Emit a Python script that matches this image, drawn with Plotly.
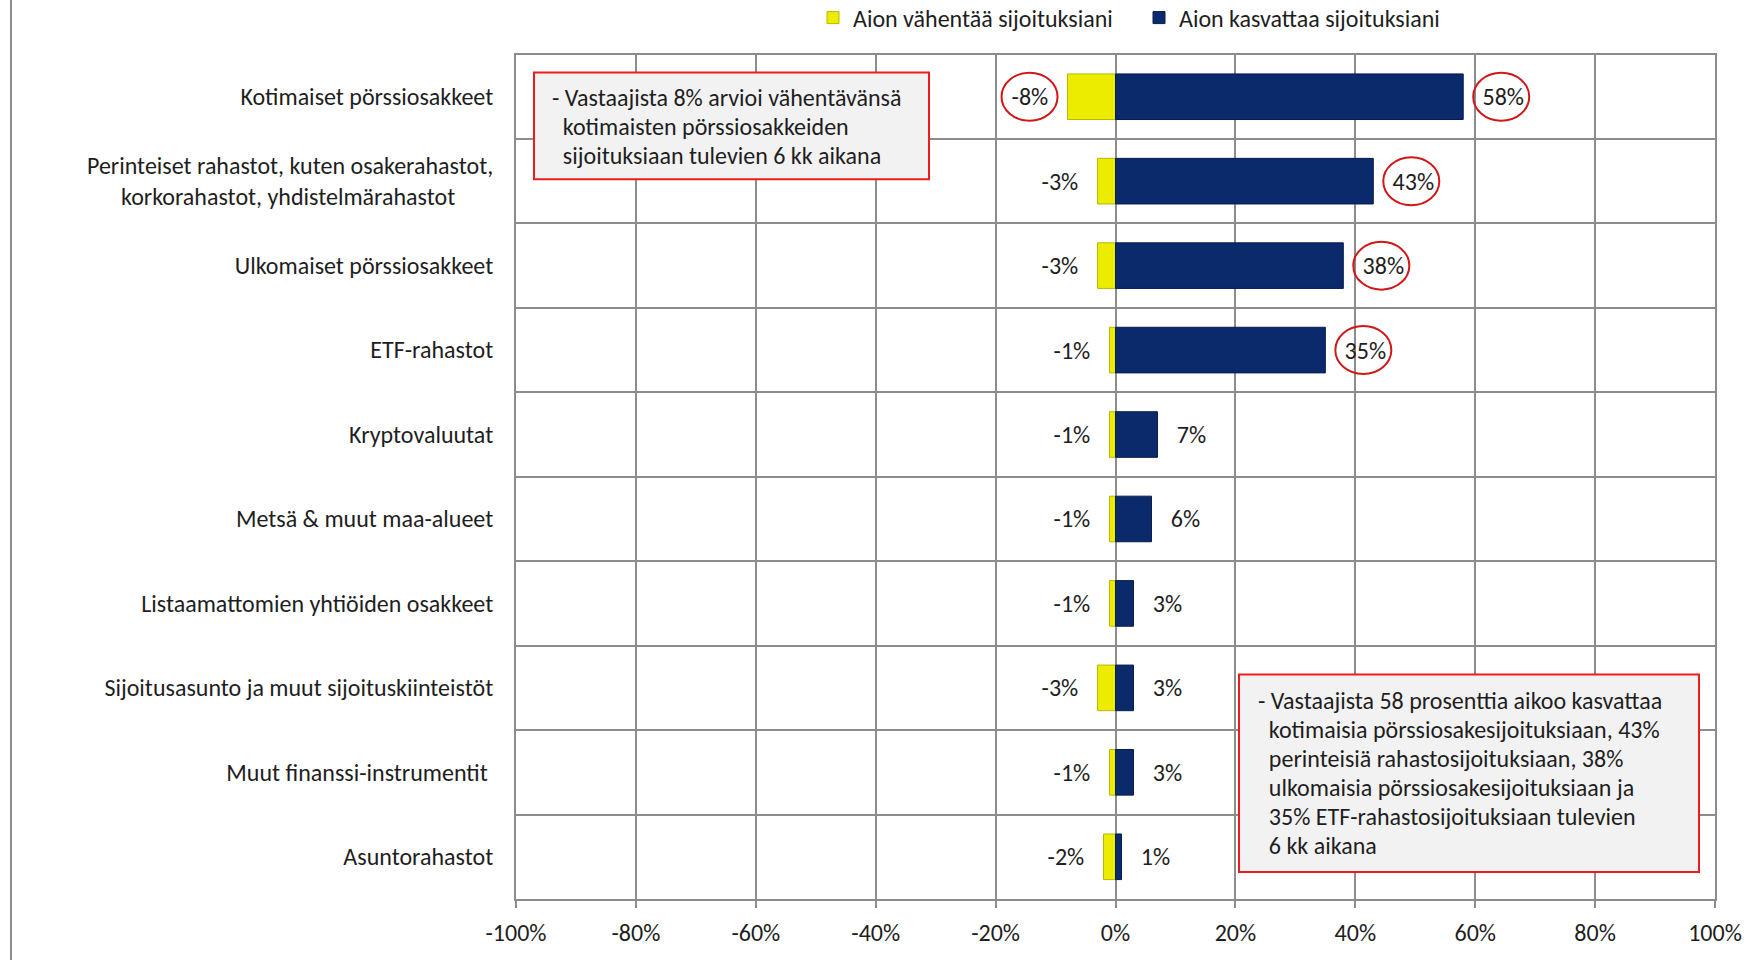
import plotly.graph_objects as go

categories = [
    "Kotimaiset pörssiosakkeet",
    "Perinteiset rahastot, kuten osakerahastot,<br>korkorahastot, yhdistelmärahastot" + "\u00a0" * 7,
    "Ulkomaiset pörssiosakkeet",
    "ETF-rahastot",
    "Kryptovaluutat",
    "Metsä & muut maa-alueet",
    "Listaamattomien yhtiöiden osakkeet",
    "Sijoitusasunto ja muut sijoituskiinteistöt",
    "Muut finanssi-instrumentit\u00a0",
    "Asuntorahastot",
]
decrease = [-8, -3, -3, -1, -1, -1, -1, -3, -1, -2]
increase = [58, 43, 38, 35, 7, 6, 3, 3, 3, 1]
x_ticks = [-100, -80, -60, -40, -20, 0, 20, 40, 60, 80, 100]
x_ticktext = [f"{v}%" for v in x_ticks]

circled_increase = [0, 1, 2, 3]
circled_decrease = [0]

note_top = [
    "- Vastaajista 8% arvioi vähentävänsä",
    "\u00a0\u00a0kotimaisten pörssiosakkeiden",
    "\u00a0\u00a0sijoituksiaan tulevien 6 kk aikana",
]
note_bottom = [
    "- Vastaajista 58 prosenttia aikoo kasvattaa",
    "\u00a0\u00a0kotimaisia pörssiosakesijoituksiaan, 43%",
    "\u00a0\u00a0perinteisiä rahastosijoituksiaan, 38%",
    "\u00a0\u00a0ulkomaisia pörssiosakesijoituksiaan ja",
    "\u00a0\u00a035% ETF-rahastosijoituksiaan tulevien",
    "\u00a0\u00a06 kk aikana",
]

FONT = "Carlito, Lato, Open Sans, sans-serif"
TXT = "#1e1e1e"
GRID = "#8c8c8c"
FS = 24
pad = "\u00a0" * 3

# plot area in pixels
L, R, T, B = 516, 40, 53, 61
PW, PH = 1755 - L - R, 960 - T - B


def px(x):
    return (x - L) / PW


def py(y):
    return 1 - (y - T) / PH


fig = go.Figure()
fig.add_trace(go.Bar(
    y=categories, x=decrease, orientation="h",
    name="Aion vähentää sijoituksiani",
    marker=dict(color="#ecec00", line=dict(color="#b8b800", width=1)),
    text=[f"{v}%{pad}" for v in decrease], textposition="outside",
    textfont=dict(family=FONT, size=FS, color=TXT),
    cliponaxis=False,
))
fig.add_trace(go.Bar(
    y=categories, x=increase, orientation="h",
    name="Aion kasvattaa sijoituksiani",
    marker=dict(color="#0b2a6c", line=dict(color="#061c4e", width=1)),
    text=[f"{pad}{v}%" for v in increase], textposition="outside",
    textfont=dict(family=FONT, size=FS, color=TXT),
    cliponaxis=False,
))

shapes = []
for i in circled_increase:
    shapes.append(dict(type="circle", xref="x", yref="y", xsizemode="pixel", ysizemode="pixel",
                       xanchor=increase[i], yanchor=i, x0=10, x1=66, y0=-24, y1=24,
                       line=dict(color="#d01818", width=2)))
for i in circled_decrease:
    shapes.append(dict(type="circle", xref="x", yref="y", xsizemode="pixel", ysizemode="pixel",
                       xanchor=decrease[i], yanchor=i, x0=-66, x1=-10, y0=-24, y1=24,
                       line=dict(color="#d01818", width=2)))

# note boxes
shapes.append(dict(type="rect", xref="paper", yref="paper", x0=px(534), x1=px(929), y0=py(178), y1=py(71),
                   fillcolor="#f2f2f2", line=dict(color="#ee1c1c", width=2), layer="above"))
shapes.append(dict(type="rect", xref="paper", yref="paper", x0=px(1239), x1=px(1699), y0=py(872), y1=py(674),
                   fillcolor="#f2f2f2", line=dict(color="#ee1c1c", width=2), layer="above"))
# left border line of the slide
shapes.append(dict(type="line", xref="paper", yref="paper", x0=px(11), x1=px(11), y0=py(965), y1=py(-5),
                   line=dict(color=GRID, width=2)))

annotations = []
for k, line in enumerate(note_top):
    annotations.append(dict(text=line, xref="paper", yref="paper", x=px(550), y=py(96 + 29 * k),
                            xanchor="left", yanchor="middle", align="left", showarrow=False,
                            font=dict(family=FONT, size=FS, color=TXT)))
for k, line in enumerate(note_bottom):
    annotations.append(dict(text=line, xref="paper", yref="paper", x=px(1256), y=py(700 + 29 * k),
                            xanchor="left", yanchor="middle", align="left", showarrow=False,
                            font=dict(family=FONT, size=FS, color=TXT)))

fig.update_layout(
    width=1755, height=960,
    barmode="relative", bargap=0.46,
    paper_bgcolor="white", plot_bgcolor="white",
    margin=dict(l=L, r=R, t=T, b=B),
    font=dict(family=FONT, size=FS, color=TXT),
    shapes=shapes, annotations=annotations,
    legend=dict(orientation="h", x=px(813), xref="paper", y=1 - 18 / 960, yref="container",
                xanchor="left", yanchor="middle",
                font=dict(family=FONT, size=FS, color=TXT), itemwidth=30,
                entrywidth=281, entrywidthmode="pixels", traceorder="normal"),
    xaxis=dict(range=[-100, 100], tickvals=x_ticks, ticktext=x_ticktext,
               showgrid=True, gridcolor=GRID, gridwidth=2, zeroline=False,
               showline=True, linecolor=GRID, linewidth=2, mirror=True,
               ticks="outside", ticklen=7, tickcolor=GRID, tickwidth=2, ticklabelstandoff=4,
               tickfont=dict(family=FONT, size=FS, color=TXT)),
    yaxis=dict(type="category", categoryorder="array", categoryarray=categories,
               autorange="reversed", tickson="boundaries", showgrid=True,
               gridcolor=GRID, gridwidth=2, showline=True, linecolor=GRID,
               linewidth=2, mirror=True, ticks="", ticklabelstandoff=16,
               tickfont=dict(family=FONT, size=FS, color=TXT)),
)

fig.write_html("out.html", config={"displayModeBar": False},
               post_script="document.body.style.margin='0';")
